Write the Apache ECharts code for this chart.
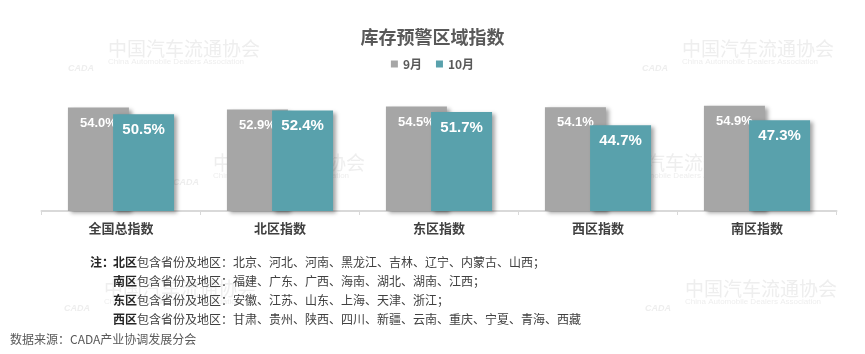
<!DOCTYPE html>
<html>
<head>
<meta charset="utf-8">
<script src="https://cdn.jsdelivr.net/npm/echarts@6/dist/echarts.min.js"></script>
<style>
  html, body { margin: 0; padding: 0; background: #fff; }
  #chart { width: 865px; height: 354px; }
</style>
</head>
<body>
<div id="chart"></div>
<script>
// 数据
const categories = ['全国总指数', '北区指数', '东区指数', '西区指数', '南区指数']
const sepData = [54.0, 52.9, 54.5, 54.1, 54.9]
const octData = [50.5, 52.4, 51.7, 44.7, 47.3]
const seriesNames = ['9月', '10月']
const noteRegions = ['北区', '南区', '东区', '西区']
const noteLists = [
  '北京、河北、河南、黑龙江、吉林、辽宁、内蒙古、山西；',
  '福建、广东、广西、海南、湖北、湖南、江西；',
  '安徽、江苏、山东、上海、天津、浙江；',
  '甘肃、贵州、陕西、四川、新疆、云南、重庆、宁夏、青海、西藏'
]

const cjk = "'Noto Sans CJK SC', 'Microsoft YaHei', sans-serif"
const labelFont = "'Liberation Sans', Arial, sans-serif"

// 水印
const marks = [[108, 49], [682, 49], [213, 163], [608, 163], [104, 289], [685, 289]]
const watermark = []
marks.forEach(([x, y]) => {
  watermark.push({
    type: 'text', left: x, top: y - 10, z: 0,
    style: { text: '中国汽车流通协会', font: '19px ' + cjk, fill: '#eeeeee' }
  })
  watermark.push({
    type: 'text', left: x, top: y + 9, z: 0,
    style: { text: 'China Automobile Dealers Association', font: '8px Arial, sans-serif', fill: '#eeeeee' }
  })
  watermark.push({
    type: 'text', left: x - 40, top: y + 15, z: 0,
    style: { text: 'CADA', font: 'italic bold 9px Arial, sans-serif', fill: '#eeeeee' }
  })
})

// 注释
const notes = [{
  type: 'text', left: 90, top: 256, z: 5,
  style: { text: '注：', font: 'bold 12px ' + cjk, fill: '#262626' }
}]
noteRegions.forEach((r, i) => {
  notes.push({
    type: 'text', left: 113, top: 256 + i * 19, z: 5,
    style: {
      text: '{b|' + r + '}{n|包含省份及地区：' + noteLists[i] + '}',
      rich: {
        b: { font: 'bold 12px ' + cjk, fill: '#262626' },
        n: { font: '12px ' + cjk, fill: '#404040' }
      }
    }
  })
})
notes.push({
  type: 'text', left: 10, top: 333, z: 5,
  style: { text: '数据来源：CADA产业协调发展分会', font: '12px ' + cjk, fill: '#595959' }
})

const chart = echarts.init(document.getElementById('chart'))

chart.setOption({
  animation: false,
  backgroundColor: '#fff',
  title: {
    text: '库存预警区域指数',
    left: 'center',
    top: 23,
    textStyle: { fontFamily: cjk, fontSize: 18, fontWeight: 'bold', color: '#595959' }
  },
  legend: {
    data: seriesNames,
    top: 53,
    left: 'center',
    icon: 'rect',
    itemWidth: 7,
    itemHeight: 7,
    itemGap: 14,
    textStyle: { fontFamily: cjk, fontSize: 12, fontWeight: 'bold', color: '#595959' }
  },
  grid: { left: 41.5, right: 28.5, top: 96, bottom: 143 },
  xAxis: {
    type: 'category',
    data: categories,
    axisLine: { lineStyle: { color: '#d9d9d9', width: 2 } },
    axisTick: { show: true, length: 4, lineStyle: { color: '#d9d9d9' } },
    axisLabel: { margin: 11, fontFamily: cjk, fontSize: 13, fontWeight: 'bold', color: '#404040' }
  },
  yAxis: {
    type: 'value',
    min: 0,
    max: 60,
    show: false,
    splitLine: { show: false }
  },
  graphic: watermark.concat(notes),
  series: [
    {
      name: seriesNames[0],
      type: 'bar',
      data: sepData,
      barWidth: 61,
      barGap: '-26%',
      z: 2,
      itemStyle: {
        color: '#a6a6a6',
        shadowColor: 'rgba(0,0,0,0.35)',
        shadowBlur: 4,
        shadowOffsetX: 3,
        shadowOffsetY: 2
      },
      label: {
        show: true,
        position: 'insideTop',
        distance: 9,
        formatter: p => p.value.toFixed(1) + '%',
        fontFamily: labelFont,
        fontSize: 13,
        fontWeight: 'bold',
        color: '#fff'
      }
    },
    {
      name: seriesNames[1],
      type: 'bar',
      data: octData,
      barWidth: 61,
      z: 3,
      itemStyle: {
        color: '#59a1ac',
        shadowColor: 'rgba(0,0,0,0.35)',
        shadowBlur: 4,
        shadowOffsetX: 3,
        shadowOffsetY: 2
      },
      label: {
        show: true,
        position: 'insideTop',
        distance: 8,
        formatter: p => p.value.toFixed(1) + '%',
        fontFamily: labelFont,
        fontSize: 15,
        fontWeight: 'bold',
        color: '#fff'
      }
    }
  ]
})
</script>
</body>
</html>
